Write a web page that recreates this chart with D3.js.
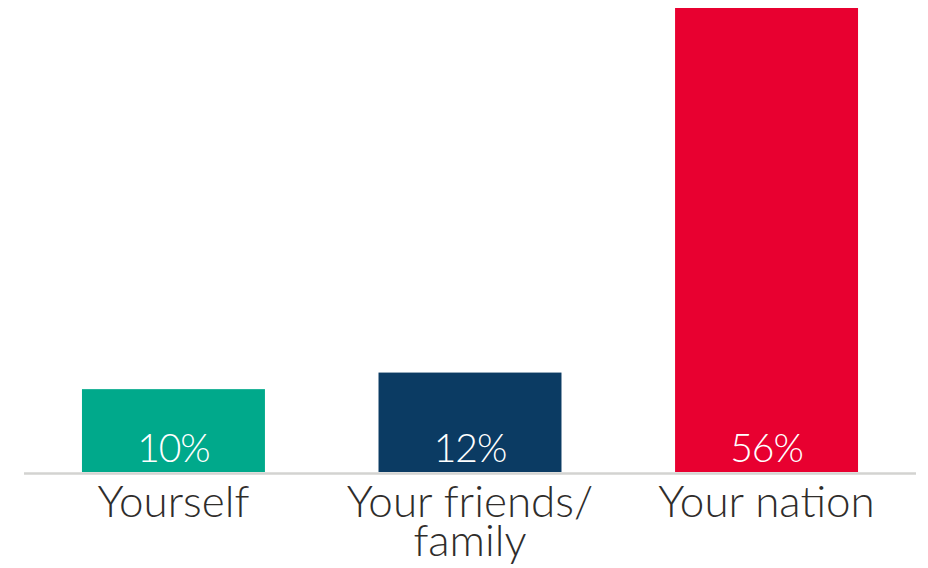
<!DOCTYPE html>
<html><head><meta charset="utf-8">
<script src="https://cdn.jsdelivr.net/npm/d3@7"></script>
<style>html,body{margin:0;padding:0;background:#fff;}</style>
</head><body>
<svg id="chart" width="928" height="568"></svg>
<script>
const categories = ["Yourself", "Your friends/\nfamily", "Your nation"];
const values = [10, 12, 56];
const valueLabels = ["10%", "12%", "56%"];
const colors = ["#00a98b", "#0b3b63", "#e80030"];

const svg = d3.select("#chart");
const baseY = 472, topY = 8;
const font = "Lato, 'Open Sans', sans-serif";

const x = d3.scaleBand().domain(d3.range(categories.length))
  .range([-7, 947]).paddingInner(0.383).paddingOuter(0.3);
const y = d3.scaleLinear().domain([0, 56]).range([baseY, topY]);

svg.selectAll("rect.bar").data(values).join("rect")
  .attr("class", "bar")
  .attr("x", (d, i) => x(i))
  .attr("width", x.bandwidth())
  .attr("y", d => y(d))
  .attr("height", d => baseY - y(d))
  .attr("fill", (d, i) => colors[i]);

svg.append("line").attr("x1", 24).attr("x2", 916)
  .attr("y1", baseY + 1.5).attr("y2", baseY + 1.5)
  .attr("stroke", "#d3d3d1").attr("stroke-width", 2.5);

svg.selectAll("text.val").data(valueLabels).join("text")
  .attr("class", "val")
  .attr("x", (d, i) => x(i) + x.bandwidth() / 2)
  .attr("y", 462)
  .attr("text-anchor", "middle")
  .attr("fill", "#fff")
  .style("font-family", font).style("font-weight", 300)
  .style("font-size", "39px")
  .style("letter-spacing", "-1px")
  .text(d => d);

const cat = svg.selectAll("text.cat").data(categories).join("text")
  .attr("class", "cat")
  .attr("text-anchor", "middle")
  .attr("fill", "#2f2d2b")
  .style("font-family", font).style("font-weight", 300)
  .style("font-size", "44px");
cat.each(function(d, i) {
  const lines = d.split("\n");
  d3.select(this).selectAll("tspan").data(lines).join("tspan")
    .attr("x", x(i) + x.bandwidth() / 2)
    .attr("y", (l, j) => 517 + j * 39)
    .text(l => l);
});
</script>
</body></html>
